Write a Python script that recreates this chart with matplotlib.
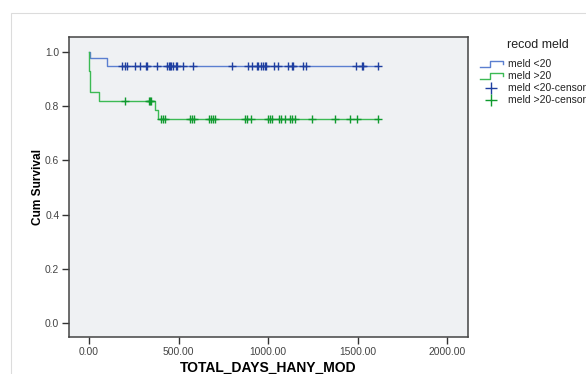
import numpy as np
import matplotlib
matplotlib.use('Agg')
import matplotlib.pyplot as plt
from matplotlib.lines import Line2D
from matplotlib.patches import Rectangle

plt.rcParams['font.family'] = ['Liberation Sans', 'DejaVu Sans']

# Kaplan-Meier step values
blue_times = [0, 8, 103]
blue_surv = [1.0, 0.976, 0.948]
green_times = [0, 1, 2, 3, 4, 58, 370, 384]
green_surv = [1.0, 0.965, 0.93, 0.895, 0.852, 0.818, 0.785, 0.752]

# censored observations (days)
blue_censored = [183, 203, 214, 259, 283, 317, 322, 378, 436, 445, 453, 460, 468,
                 486, 490, 523, 579, 801, 888, 911, 937, 946, 962, 972, 983, 990,
                 1031, 1054, 1111, 1133, 1141, 1193, 1212, 1491, 1525, 1530, 1612]
green_censored = [201, 337, 343, 348, 402, 415, 427, 564, 575, 587, 672, 683, 694,
                  706, 873, 884, 903, 998, 1011, 1022, 1059, 1070, 1094, 1124, 1133,
                  1152, 1243, 1376, 1458, 1499, 1614]

x_ticks = [0, 500, 1000, 1500, 2000]
x_tick_labels = ['0.00', '500.00', '1000.00', '1500.00', '2000.00']
y_ticks = [0.0, 0.2, 0.4, 0.6, 0.8, 1.0]

blue_line = '#5b7fd0'
blue_mark = '#1f3fa0'
green_line = '#3cba54'
green_mark = '#0f9a2e'

W, H = 586, 374
fig = plt.figure(figsize=(W / 100, H / 100), dpi=100)

# light outer frame
fig.add_artist(Rectangle((11 / W, -0.1), 1.2, (H - 13) / H + 0.1, transform=fig.transFigure,
                         fill=False, edgecolor='#dcdcdc', linewidth=0.8))

ax = fig.add_axes([69 / W, 1 - 337 / H, (468 - 69) / W, (337 - 37) / H])
ax.set_facecolor('#eff1f3')


def km_curve(times, surv, censored, lc, mc):
    t = np.array(times + [max(censored)], dtype=float)
    s = np.array(surv + [surv[-1]])
    ax.step(t, s, where='post', color=lc, linewidth=1.0, zorder=3)
    idx = np.searchsorted(times, censored, side='right') - 1
    cs = np.array(surv)[idx]
    ax.plot(censored, cs, linestyle='none', marker='+', markersize=6,
            markeredgewidth=1.0, color=mc, zorder=4)


km_curve(blue_times, blue_surv, blue_censored, blue_line, blue_mark)
km_curve(green_times, green_surv, green_censored, green_line, green_mark)

ax.set_xlim(-112, 2117)
ax.set_ylim(-0.052, 1.055)
ax.set_xticks(x_ticks)
ax.set_xticklabels(x_tick_labels)
ax.set_yticks(y_ticks)
ax.set_yticklabels(['%.1f' % v for v in y_ticks])
ax.tick_params(axis='both', direction='out', length=5, width=1.0, color='#333333',
               labelsize=7.4, labelcolor='#444444', pad=2)
for sp in ax.spines.values():
    sp.set_color('#444444')
    sp.set_linewidth(1.1)

ax.set_xlabel('TOTAL_DAYS_HANY_MOD', fontsize=10, fontweight='bold', labelpad=3)
ax.set_ylabel('Cum Survival', fontsize=8.6, fontweight='bold', labelpad=1)

# legend drawn by hand (SPSS style)
def fx(px):
    return px / W


def fy(py):
    return 1 - py / H


fig.text(fx(507), fy(45), 'recod meld', fontsize=9, va='center', ha='left', color='#222222')
legend_rows = [('meld <20', blue_line, 'line', 64),
               ('meld >20', green_line, 'line', 76),
               ('meld <20-censored', blue_mark, 'cross', 88),
               ('meld >20-censored', green_mark, 'cross', 100)]
for label, col, kind, py in legend_rows:
    if kind == 'line':
        xs = [480, 490, 490, 503, 503]
        ys = [py + 3, py + 3, py - 3, py - 3, py]
        fig.add_artist(Line2D([fx(v) for v in xs], [fy(v) for v in ys],
                              transform=fig.transFigure, color=col, linewidth=1.0))
    else:
        fig.add_artist(Line2D([fx(491)], [fy(py)], transform=fig.transFigure,
                              marker='+', markersize=8, markeredgewidth=1.0, color=col,
                              linestyle='none'))
    fig.text(fx(508), fy(py), label, fontsize=7.5, va='center', ha='left', color='#222222')

fig.savefig('out.png', dpi=100)
